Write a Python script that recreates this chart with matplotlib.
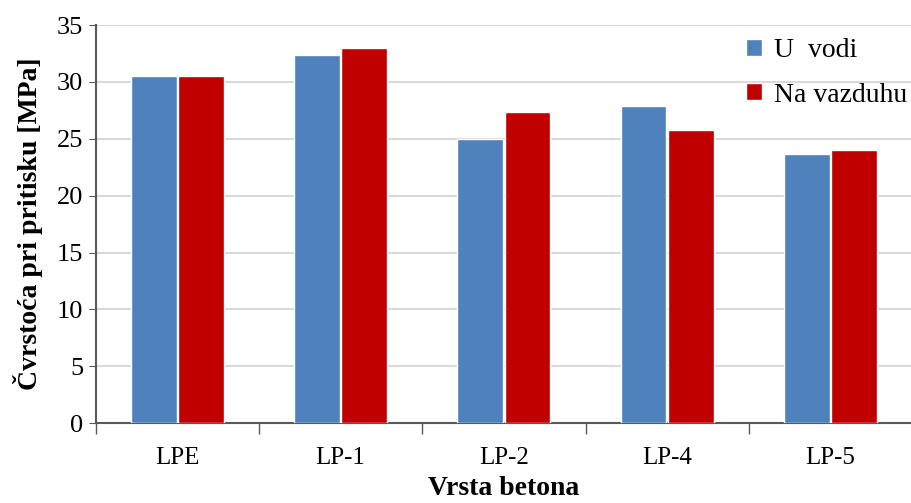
import numpy as np
import matplotlib.pyplot as plt

categories = ['LPE', 'LP-1', 'LP-2', 'LP-4', 'LP-5']
u_vodi = [30.5, 32.4, 25.0, 27.9, 23.7]
na_vazduhu = [30.5, 33.0, 27.4, 25.8, 24.0]

plt.rcParams['font.family'] = ['Liberation Serif', 'DejaVu Serif']

fig = plt.figure(figsize=(9.12, 5.03), dpi=100)
ax = fig.add_axes([0.105, 0.159, 0.895, 0.791])

x = np.arange(len(categories))
w = 0.28
ax.bar(x - w / 2 - 0.005, u_vodi, w, color='#4f81bd', edgecolor='white', linewidth=1, label='U  vodi', zorder=3)
ax.bar(x + w / 2 + 0.005, na_vazduhu, w, color='#c00000', edgecolor='white', linewidth=1, label='Na vazduhu', zorder=3)

ax.set_xlim(-0.5, 4.5)
ax.set_ylim(0, 35)
ax.set_yticks(range(0, 36, 5))
ax.yaxis.grid(True, color='#d9d9d9', linewidth=1.5, zorder=0)

ax.set_xticks(x)
ax.set_xticklabels(categories)
ax.set_xticks(np.arange(-0.5, 5, 1), minor=True)
ax.tick_params(axis='x', which='major', length=0, pad=17, labelsize=18)
ax.tick_params(axis='x', which='minor', length=8, color='#595959', width=1)
ax.tick_params(axis='y', length=5, color='#595959', labelsize=19, pad=4)

for s in ['top', 'right']:
    ax.spines[s].set_visible(False)
for s in ['left', 'bottom']:
    ax.spines[s].set_color('#595959')
    ax.spines[s].set_linewidth(1.5)

ax.set_ylabel('Čvrstoća pri pritisku [MPa]', fontsize=20, fontweight='bold', labelpad=10)
ax.set_xlabel('Vrsta betona', fontsize=20, fontweight='bold', labelpad=5)

ax.legend(loc='upper right', bbox_to_anchor=(1.025, 1.03), frameon=False, fontsize=20,
          handlelength=0.55, handleheight=0.55, handletextpad=0.45, labelspacing=0.7)

fig.savefig('out.png', dpi=100)
